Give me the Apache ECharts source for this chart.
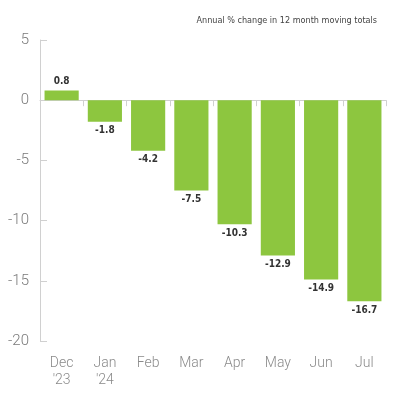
<!DOCTYPE html>
<html><head><meta charset="utf-8">
<script src="https://cdn.jsdelivr.net/npm/echarts@6/dist/echarts.min.js"></script>
<style>html,body{margin:0;padding:0;background:#fff}#c{width:400px;height:400px}</style>
</head><body><div id="c"></div>
<script>
const categories = ["Dec\n'23", "Jan\n'24", "Feb", "Mar", "Apr", "May", "Jun", "Jul"];
const values = [0.8, -1.8, -4.2, -7.5, -10.3, -12.9, -14.9, -16.7];
const yTicks = { min: -20, max: 5, interval: 5 };
const subtitle = "Annual % change in 12 month moving totals";

const chart = echarts.init(document.getElementById('c'));
chart.setOption({
  animation: false,
  title: {
    text: subtitle, right: 18, top: 11,
    textStyle: { fontSize: 9, fontWeight: 'normal', color: '#444', fontFamily: "'Liberation Sans Narrow','DejaVu Sans Condensed',sans-serif" }
  },
  grid: { left: 40, right: 14, top: 40, bottom: 59 },
  xAxis: [
    {
      type: 'category', data: categories,
      axisLine: { onZero: true, lineStyle: { color: '#d0d0d0', width: 1 } },
      axisTick: { show: true, length: 6, lineStyle: { color: '#d0d0d0' } },
      axisLabel: { show: false }
    },
    {
      type: 'category', data: categories, position: 'bottom',
      axisLine: { show: false, onZero: false }, axisTick: { show: false },
      axisLabel: { color: '#8a8a8a', fontSize: 14, lineHeight: 17, margin: 14, fontFamily: 'Roboto', fontWeight: 300 }
    }
  ],
  yAxis: {
    type: 'value', min: yTicks.min, max: yTicks.max, interval: yTicks.interval,
    axisLine: { show: true, lineStyle: { color: '#d0d0d0' } },
    axisTick: { show: true, inside: true, length: 7, lineStyle: { color: '#d0d0d0' } },
    splitLine: { show: false },
    axisLabel: { color: '#7a7a7a', fontSize: 15, margin: 11, fontFamily: 'Roboto', fontWeight: 300 }
  },
  series: [{
    type: 'bar', data: values, xAxisIndex: 0,
    barCategoryGap: '21%',
    itemStyle: { color: '#8dc63f' },
    label: {
      show: true, position: 'outside', distance: 4,
      color: '#333', fontSize: 10, fontWeight: 'bold',
      fontFamily: "'Liberation Sans Narrow','DejaVu Sans Condensed',sans-serif",
      formatter: p => p.value.toFixed(1)
    }
  }]
});
</script></body></html>
